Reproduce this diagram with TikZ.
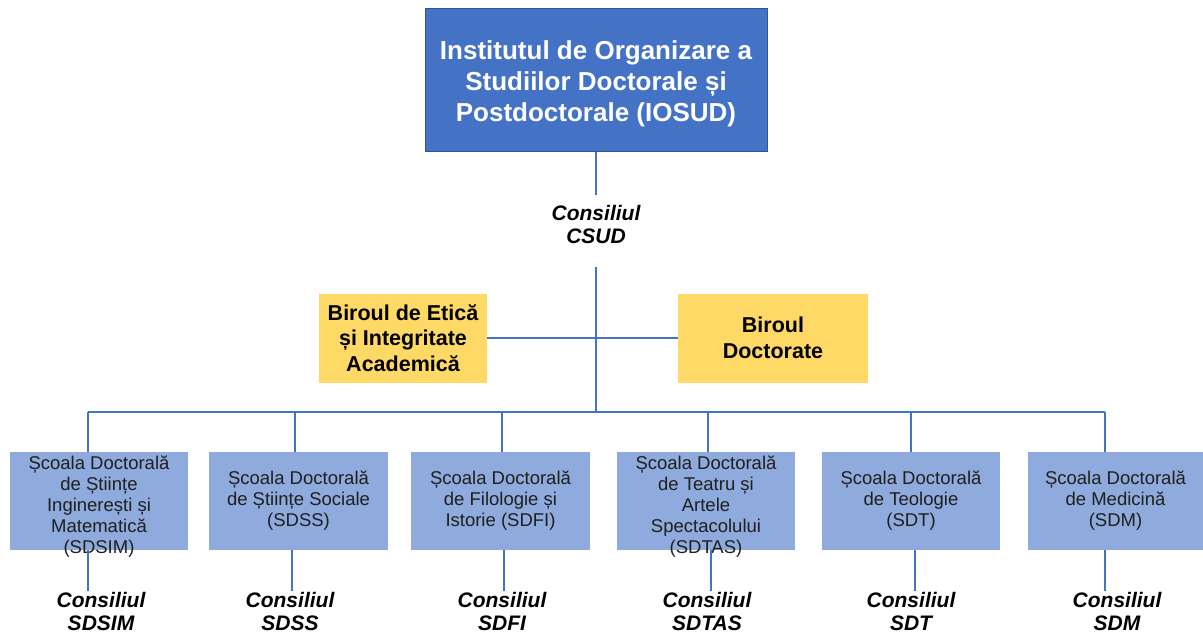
\documentclass[tikz,border=0pt]{standalone}
\usepackage{fontspec}
\setmainfont{Liberation Sans}
\definecolor{topblue}{HTML}{4472C4}
\definecolor{topedge}{HTML}{2F5597}
\definecolor{lightblue}{HTML}{8FAADC}
\definecolor{goldbox}{HTML}{FFD966}
\definecolor{linkblue}{HTML}{4472C4}
% text block whose first baseline sits #1 above the node centre, taking no room
\newcommand{\lowblock}[2]{\raisebox{#1}[0pt][0pt]{\begin{tabular}[t]{@{}c@{}}#2\end{tabular}}}
\tikzset{
  topbox/.style={fill=topblue, draw=topedge, line width=1pt, text=white, align=center,
    minimum width=342pt, minimum height=142pt, inner sep=0pt,
    font=\fontsize{26}{31}\selectfont\bfseries},
  goldnode/.style={fill=goldbox, align=center, minimum height=89pt, inner sep=0pt,
    font=\fontsize{21.5}{25.5}\selectfont\bfseries},
  schoolbox/.style={fill=lightblue, align=center, minimum height=98pt, inner sep=0pt,
    text=black!88, font=\fontsize{18.5}{21}\selectfont},
  council/.style={align=center, inner xsep=0pt, inner ysep=1pt,
    font=\fontsize{21}{23}\selectfont\bfseries\itshape},
  link/.style={draw=linkblue, line width=1.3pt}
}
\begin{document}
\begin{tikzpicture}[x=1pt,y=-1pt]
\useasboundingbox (0,0) rectangle (1203,634);

\node[topbox] (iosud) at (596,80) {\lowblock{20.5pt}{Institutul de Organizare a\\Studiilor Doctorale și\\Postdoctorale (IOSUD)}};
\node[council, inner ysep=10pt] (csud) at (596,224.5) {Consiliul\\CSUD};

\node[goldnode, minimum width=168pt] (etica) at (403,338) {Biroul de Etică\\și Integritate\\Academică};
\node[goldnode, minimum width=190pt] (birou) at (773,338) {Biroul\\Doctorate};

\coordinate (hub) at (596,412);
\coordinate (b1) at (88,412);
\coordinate (b2) at (295,412);
\coordinate (b3) at (502,412);
\coordinate (b4) at (708,412);
\coordinate (b5) at (911,412);
\coordinate (b6) at (1105,412);

\node[schoolbox, minimum width=178pt] (s1) at (99,501) {\lowblock{32pt}{Școala Doctorală\\de Științe\\Inginerești și\\Matematică\\(SDSIM)}};
\node[schoolbox, minimum width=179pt] (s2) at (298.5,501) {Școala Doctorală\\de Științe Sociale\\(SDSS)};
\node[schoolbox, minimum width=179pt] (s3) at (500.5,501) {Școala Doctorală\\de Filologie și\\Istorie (SDFI)};
\node[schoolbox, minimum width=178pt] (s4) at (706,501) {\lowblock{32pt}{Școala Doctorală\\de Teatru și\\Artele\\Spectacolului\\(SDTAS)}};
\node[schoolbox, minimum width=178pt] (s5) at (911,501) {Școala Doctorală\\de Teologie\\(SDT)};
\node[schoolbox, minimum width=175pt] (s6) at (1115.5,501) {Școala Doctorală\\de Medicină\\(SDM)};

\node[council] (c1) at (101,611) {Consiliul\\SDSIM};
\node[council] (c2) at (290,611) {Consiliul\\SDSS};
\node[council] (c3) at (502,611) {Consiliul\\SDFI};
\node[council] (c4) at (707,611) {Consiliul\\SDTAS};
\node[council] (c5) at (911,611) {Consiliul\\SDT};
\node[council] (c6) at (1117,611) {Consiliul\\SDM};

\coordinate (e1) at (88,570);
\coordinate (e2) at (292,570);
\coordinate (e3) at (504,570);
\coordinate (e4) at (711,570);
\coordinate (e5) at (915,570);
\coordinate (e6) at (1105,570);

% connectors
\draw[link] (iosud.south) -- (csud.north);
\draw[link] ([yshift=-13.5pt]csud.south) -- (hub);
\draw[link] (etica.east) -- (birou.west);
\draw[link] (b1) -- (b6);
\foreach \i in {1,...,6}{
  \draw[link] (b\i) -- (b\i |- s\i.north);
  \draw[link] (e\i |- s\i.south) -- (e\i |- c\i.north);
}
\end{tikzpicture}
\end{document}
